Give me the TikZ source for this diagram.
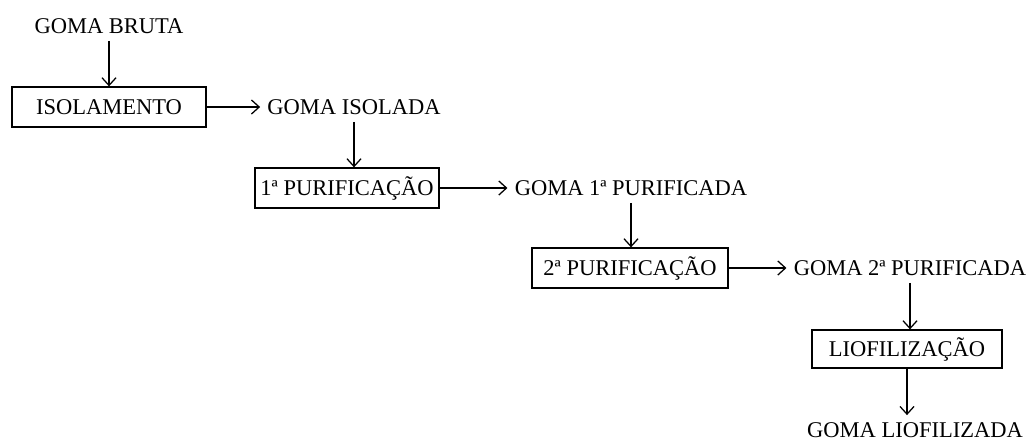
\documentclass[tikz,border=0pt]{standalone}
\usepackage{fontspec}
\setmainfont{Liberation Serif}
\usepackage{tikz}
\usetikzlibrary{arrows,arrows.meta,calc}

\tikzset{
  every node/.style={font=\fontsize{16}{19}\selectfont, text height=10.8pt, text depth=0pt, inner sep=5pt},
  etapa/.style={draw, line width=0.9pt, minimum height=1cm, inner sep=0pt},
  seta/.style={line width=0.9pt, -{Straight Barb[length=5.5pt,width=10pt,line width=0.9pt]}}
}

\begin{document}
\begin{tikzpicture}[x=0.025cm,y=-0.025cm]
\useasboundingbox (0,0) rectangle (1032,441);

\node (g1) at (109,26) {GOMA BRUTA};
\node[etapa, minimum width=4.85cm] (p1) at (109,107) {ISOLAMENTO};
\node (g2) at (354,107) {GOMA ISOLADA};
\node[etapa, minimum width=4.6cm] (p2) at (347,188) {1ª PURIFICAÇÃO};
\node (g3) at (631,188) {GOMA 1ª PURIFICADA};
\node[etapa, minimum width=4.9cm] (p3) at (630,268) {2ª PURIFICAÇÃO};
\node (g4) at (910,268) {GOMA 2ª PURIFICADA};
\node[etapa, minimum width=4.75cm, minimum height=0.95cm] (p4) at (907,349) {LIOFILIZAÇÃO};
\node (g5) at (915,430) {GOMA LIOFILIZADA};

\draw[seta] (g1.south) -- (g1.south |- p1.north);
\draw[seta] (p1) -- (g2);
\draw[seta] (g2.south) -- (g2.south |- p2.north);
\draw[seta] (p2) -- (g3);
\draw[seta] (g3.south) -- (g3.south |- p3.north);
\draw[seta] (p3) -- (g4);
\draw[seta] (g4.south) -- (g4.south |- p4.north);
\draw[seta] (p4.south) -- (p4.south |- g5.north);

\end{tikzpicture}
\end{document}
